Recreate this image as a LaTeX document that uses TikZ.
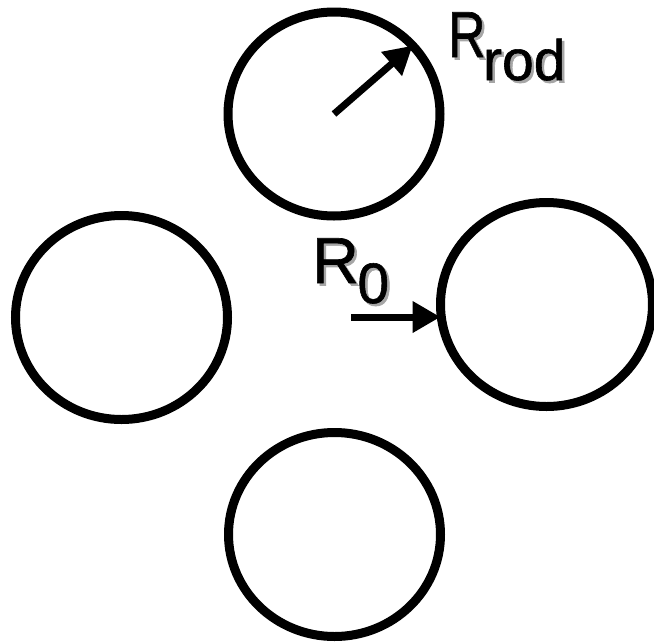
\documentclass[tikz,border=0pt]{standalone}
\usepackage{fontspec}
\usepackage{graphicx}
\setmainfont{Liberation Sans}
\newfontface\lblface{Liberation Sans}[FakeBold=1]
\usetikzlibrary{shapes.geometric,arrows.meta}
\newcommand{\shd}[1]{\rlap{\kern2.5pt\raisebox{-2.5pt}{\textcolor{black!35}{#1}}}#1}
\tikzset{
  rodring/.style={draw, ellipse, line width=9pt, inner sep=0pt, outer sep=0pt,
    minimum width=212pt, minimum height=204pt},
  radarrow/.style={line width=7pt, -{Triangle[length=28pt,width=30pt]}},
  lbl/.style={inner sep=0pt, outer sep=0pt, anchor=base west, text=black,
    font=\lblface\fontsize{65}{65}\selectfont},
}
\newcommand{\subsz}{\fontsize{57}{57}\selectfont}
\begin{document}
\begin{tikzpicture}[x=1pt,y=-1pt]
\useasboundingbox (0,0) rectangle (654,641);
% rods
\node[rodring] (top) at (334,114) {};
\node[rodring] (left) at (121.5,317.5) {};
\node[rodring] (right) at (546.5,304.5) {};
\node[rodring] (bottom) at (334.5,534.5) {};
% labels
\node[lbl] (rrod) at (448,57) {\shd{\scalebox{0.8}[1]{R}}\kern-2.5pt\raisebox{-23pt}{\subsz\shd{rod}}};
\node[lbl] (rzero) at (312,283) {\shd{R}\kern-1.5pt\raisebox{-20pt}{\subsz\shd{0}}};
% arrows
\draw[radarrow] (top.center) -- (top.41);
\coordinate (r0start) at (351,317);
\draw[radarrow] (r0start) -- (r0start -| right.west);
\end{tikzpicture}
\end{document}
